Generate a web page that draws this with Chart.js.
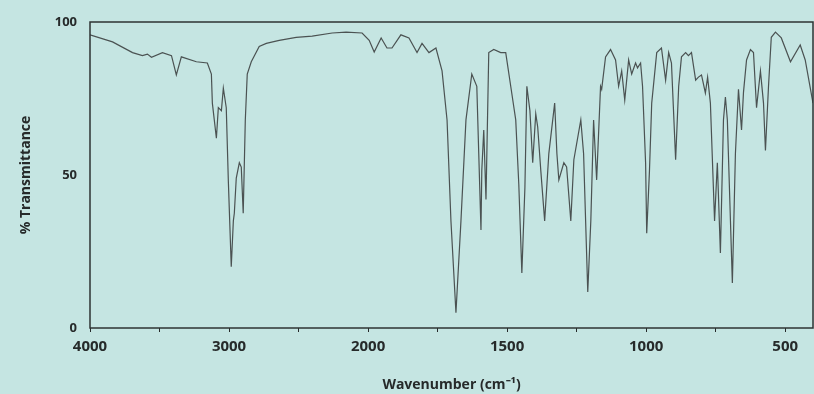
<!DOCTYPE html>
<html>
<head>
<meta charset="utf-8">
<script src="https://cdn.jsdelivr.net/npm/chart.js@4.4.1/dist/chart.umd.min.js"></script>
<style>
    html, body { margin: 0; padding: 0; background: #c5e5e2; }
    #wrap { width: 814px; height: 394px; }
</style>
</head>
<body>
<div id="wrap"><canvas id="irChart"></canvas></div>
<script>
//spectrum (cm-1, % transmittance)
const wavenumbers = [
    4000, 3838, 3694, 3623, 3587, 3558, 3479, 3414, 3379, 3343, 3235, 3156, 3127, 3120,
    3091, 3077, 3055, 3041, 3020, 3005, 2984, 2969, 2962, 2948, 2926, 2912, 2898, 2883,
    2869, 2840, 2783, 2732, 2639, 2517, 2402, 2258, 2158, 2043, 1996, 1978, 1953, 1932,
    1914, 1882, 1853, 1824, 1806, 1781, 1756, 1734, 1716, 1702, 1684, 1666, 1648, 1627,
    1609, 1602, 1594, 1591, 1584, 1576, 1566, 1548, 1523, 1505, 1487, 1469, 1458, 1447,
    1436, 1429, 1418, 1408, 1397, 1390, 1379, 1365, 1350, 1329, 1321, 1314, 1296, 1286,
    1271, 1260, 1235, 1225, 1210, 1199, 1189, 1178, 1164, 1160, 1146, 1128, 1110, 1099,
    1088, 1077, 1063, 1052, 1038, 1031, 1020, 1013, 1002, 998, 988, 980, 962, 945,
    930, 919, 909, 894, 883, 873, 858, 848, 837, 822, 812, 801, 787, 779,
    769, 754, 744, 733, 722, 715, 708, 690, 679, 668, 657, 650, 639, 625,
    614, 603, 589, 578, 571, 560, 550, 535, 514, 481, 446, 428, 400
];
const transmittance = [
    95.8, 93.5, 90, 89, 89.5, 88.5, 90, 89, 82.7, 88.6, 87, 86.6, 83, 73.5,
    62, 72, 71, 78.4, 72, 48, 20, 35, 37.5, 49, 54, 52.6, 37.5, 68,
    83, 87, 92, 93, 94, 95, 95.4, 96.4, 96.7, 96.4, 94, 90.2, 94.8, 91.5,
    91.5, 95.8, 94.8, 90, 93, 90, 91.5, 84, 68, 35, 5, 35, 68, 83,
    79, 57, 32, 51.6, 64.7, 42, 90, 91, 90, 90, 79, 68, 47, 18,
    46, 79, 71, 54, 70, 65.7, 51.6, 35, 57, 73.5, 57, 48.4, 54, 52.6,
    35, 55, 68, 57, 11.8, 35, 68, 48.4, 79, 78, 88.6, 91, 87.6, 79,
    84, 74.5, 87.6, 83, 86.6, 85, 86.6, 79, 54, 31, 51.6, 73.5, 90, 91.5,
    81, 90, 86.6, 55, 79, 88.6, 90, 89, 90, 81, 82, 82.7, 76.8, 82,
    73.5, 35, 54, 24.5, 68, 75.5, 68, 14.7, 57, 78, 64.7, 77, 87.6, 91,
    90, 72, 84, 73.5, 58, 79, 95, 96.7, 94.8, 87, 92.5, 87.6, 73.5
];
const xTickLabels = [4000, 3000, 2000, 1500, 1000, 500];
const xMinorTicks = [3500, 2500, 1750, 1250, 750];
const yTickLabels = [0, 50, 100];

//the printed axis is squeezed to half scale above 2000 cm-1
function toAxis(wn) {
    return wn > 2000 ? 2000 + (wn - 2000) / 2 : wn;
}
function fromAxis(u) {
    return u > 2000 ? 2000 + (u - 2000) * 2 : u;
}

const points = wavenumbers.map((wn, i) => ({ x: toAxis(wn), y: transmittance[i] }));

//box round the plot area
const frame = {
    id: "frame",
    afterDatasetsDraw(chart) {
        const { ctx, chartArea: a } = chart;
        ctx.save();
        ctx.strokeStyle = "#2e3333";
        ctx.lineWidth = 1.5;
        ctx.strokeRect(a.left, a.top, a.right - a.left, a.bottom - a.top);
        ctx.restore();
    }
};

const ink = "#262a2a";
const face = "'Open Sans', sans-serif";

new Chart(document.getElementById("irChart"), {
    type: "line",
    data: {
        datasets: [{
            data: points,
            borderColor: "#4b5252",
            borderWidth: 1.2,
            pointRadius: 0,
            tension: 0,
            fill: false
        }]
    },
    options: {
        responsive: true,
        maintainAspectRatio: false,
        animation: false,
        layout: { padding: { top: 22, right: 1, left: 0, bottom: 0 } },
        plugins: {
            legend: { display: false },
            tooltip: { enabled: false }
        },
        scales: {
            x: {
                type: "linear",
                reverse: true,
                min: toAxis(400),
                max: toAxis(4000),
                afterFit(scale) { scale.height = 66; },
                afterBuildTicks(scale) {
                    scale.ticks = xTickLabels.concat(xMinorTicks).map(wn => ({ value: toAxis(wn) }));
                },
                border: { display: false },
                grid: { drawOnChartArea: false, drawTicks: true, tickLength: 4, color: ink },
                ticks: {
                    autoSkip: false,
                    maxRotation: 0,
                    padding: 6,
                    color: ink,
                    font: { family: face, size: 15, weight: "bold" },
                    callback: v => {
                        const wn = Math.round(fromAxis(v));
                        return xTickLabels.includes(wn) ? String(wn) : "";
                    }
                },
                title: {
                    display: true,
                    text: "Wavenumber (cm\u207B\u00B9)",
                    color: ink,
                    font: { family: face, size: 14, weight: "bold" },
                    padding: { top: 0, bottom: 1 }
                }
            },
            y: {
                min: 0,
                max: 100,
                afterFit(scale) { scale.width = 90; },
                afterBuildTicks(scale) {
                    scale.ticks = yTickLabels.map(v => ({ value: v }));
                },
                border: { display: false },
                grid: { drawOnChartArea: false, drawTicks: false },
                ticks: {
                    padding: 13,
                    color: ink,
                    font: { family: face, size: 13, weight: "bold" }
                },
                title: {
                    display: true,
                    text: "% Transmittance",
                    color: ink,
                    font: { family: face, size: 14, weight: "bold" },
                    padding: { top: 18, bottom: 0 }
                }
            }
        }
    },
    plugins: [frame]
});
</script>
</body>
</html>
